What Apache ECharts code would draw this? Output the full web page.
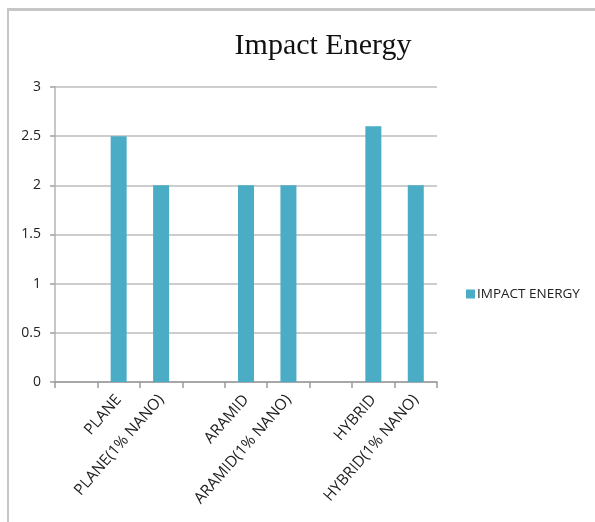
<!DOCTYPE html>
<html>
<head>
<meta charset="utf-8">
<script src="https://cdn.jsdelivr.net/npm/echarts@6/dist/echarts.min.js"></script>
<style>
  html, body { margin: 0; padding: 0; background: #ffffff; }
  #chart { width: 595px; height: 522px; }
</style>
</head>
<body>
<div id="chart"></div>
<script>
// Category slots: blank slots separate the three material groups
const categories = ['', 'PLANE', 'PLANE(1% NANO)', '', 'ARAMID', 'ARAMID(1% NANO)', '', 'HYBRID', 'HYBRID(1% NANO)'];
const impactEnergy = [null, 2.5, 2, null, 2, 2, null, 2.6, 2];
const seriesName = 'IMPACT ENERGY';
const titleText = 'Impact Energy';
const yTicks = { min: 0, max: 3, interval: 0.5 };

const chart = echarts.init(document.getElementById('chart'), null, { renderer: 'canvas' });

const labelFont = '"Open Sans", "DejaVu Sans", sans-serif';

chart.setOption({
  animation: false,
  backgroundColor: '#ffffff',
  title: {
    text: titleText,
    left: 318,
    top: 26,
    textAlign: 'center',
    textStyle: {
      fontFamily: '"Liberation Serif", "Times New Roman", serif',
      fontSize: 30,
      fontWeight: 'normal',
      color: '#111111'
    }
  },
  legend: {
    data: [seriesName],
    orient: 'vertical',
    left: 461,
    top: 282,
    itemWidth: 9,
    itemHeight: 9,
    itemGap: 4,
    icon: 'rect',
    textStyle: { fontFamily: labelFont, fontSize: 13.5, color: '#222222', padding: [0, 0, 0, -3] }
  },
  grid: {
    left: 55,
    right: 158,
    top: 87,
    bottom: 140,
    containLabel: false
  },
  xAxis: {
    type: 'category',
    data: categories,
    axisLine: { show: true, lineStyle: { color: '#9a9a9a', width: 1.5 } },
    axisTick: { show: true, length: 6, interval: 0, alignWithLabel: false, lineStyle: { color: '#9a9a9a', width: 1.5 } },
    axisLabel: {
      interval: 0,
      rotate: 49,
      margin: 15,
      fontFamily: labelFont,
      fontSize: 15.5,
      color: '#222222'
    },
    splitLine: { show: false }
  },
  yAxis: {
    type: 'value',
    min: yTicks.min,
    max: yTicks.max,
    interval: yTicks.interval,
    axisLine: { show: true, lineStyle: { color: '#b5b5b5', width: 1.5 } },
    axisTick: { show: true, length: 5, lineStyle: { color: '#a0a0a0', width: 1.5 } },
    axisLabel: {
      margin: 14,
      fontFamily: labelFont,
      fontSize: 14,
      color: '#222222'
    },
    splitLine: { show: true, lineStyle: { color: '#bcbcbc', width: 1.5 } }
  },
  series: [{
    name: seriesName,
    type: 'bar',
    data: impactEnergy,
    barWidth: 16,
    itemStyle: { color: '#4bacc6' }
  }],
  graphic: [
    {
      type: 'rect',
      shape: { x: 7, y: 8, width: 600, height: 3 },
      style: { fill: '#c6c6c6' },
      silent: true
    },
    {
      type: 'rect',
      shape: { x: 7, y: 8, width: 2, height: 520 },
      style: { fill: '#c6c6c6' },
      silent: true
    }
  ]
});
</script>
</body>
</html>
